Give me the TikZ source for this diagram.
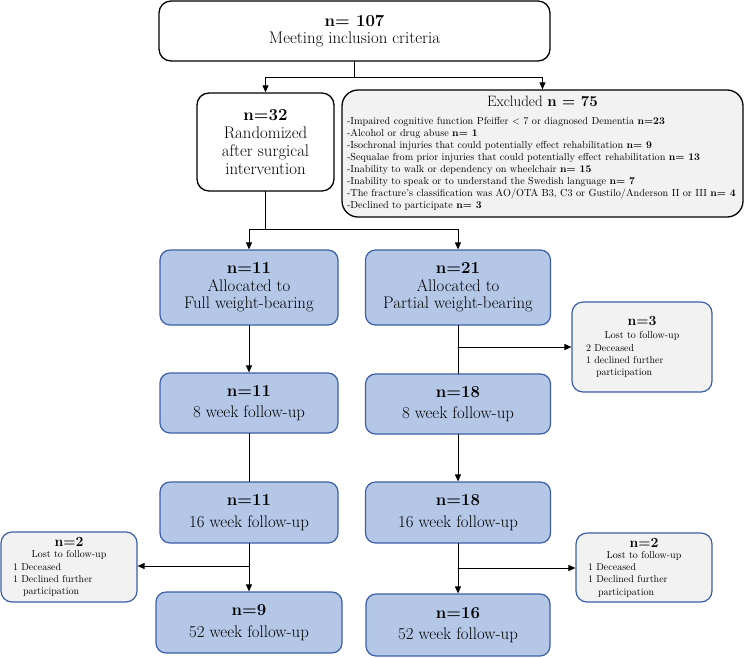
\documentclass[tikz,border=0pt]{standalone}
\usepackage{tikz}
\usetikzlibrary{arrows.meta}

\definecolor{boxblue}{HTML}{B4C7E7}
\definecolor{edgeblue}{HTML}{3B5FA6}
\definecolor{boxgray}{HTML}{F2F2F2}

\def\colL{249}
\def\colR{458}
\newcommand{\exline}[1]{\makebox[391pt][l]{#1}}
\newcommand{\lostline}[1]{\makebox[112pt][l]{#1}}

\begin{document}
\begin{tikzpicture}[x=1pt, y=-1pt,
                    >={Triangle[length=7pt,width=6pt]}, line cap=round,
                    line width=1pt,
                    whitebox/.style={draw, line width=1.3pt, rounded corners=12pt, fill=white,
                                     align=center, inner sep=0pt,
                                     font=\fontsize{16.8}{17.8}\selectfont},
                    exclbox/.style={whitebox, fill=boxgray, rounded corners=16pt,
                                    font=\fontsize{10.2}{12}\selectfont},
                    bluebox/.style={draw=edgeblue, line width=1.2pt, fill=boxblue,
                                    rounded corners=10pt, align=center, inner sep=0pt,
                                    minimum height=60pt,
                                    font=\fontsize{16.8}{17.5}\selectfont},
                    lostbox/.style={draw=edgeblue, line width=1.2pt, fill=boxgray,
                                    rounded corners=11pt, align=center, inner sep=0pt,
                                    minimum width=137pt,
                                    font=\fontsize{10}{12.3}\selectfont}
                   ]
\useasboundingbox (0,0) rectangle (744,657);

% screening
\node[whitebox, minimum width=391pt, minimum height=60pt] (top) at (354.5,31)
  {\textbf{n= 107}\\Meeting inclusion criteria};
\node[whitebox, minimum width=137pt, minimum height=98pt] (rand) at (265.5,142)
  {\textbf{n=32}\\Randomized\\after surgical\\intervention};
\node[exclbox, minimum width=401pt, minimum height=127pt] (excl) at (542.5,153.5)
  {{\fontsize{15}{16}\selectfont Excluded \textbf{n = 75}}\\[6pt]
   \exline{-Impaired cognitive function Pfeiffer < 7 or diagnosed Dementia \textbf{n=23}}\\
   \exline{-Alcohol or drug abuse \textbf{n= 1}}\\
   \exline{-Isochronal injuries that could potentially effect rehabilitation \textbf{n= 9}}\\
   \exline{-Sequalae from prior injuries that could potentially effect rehabilitation \textbf{n= 13}}\\
   \exline{-Inability to walk or dependency on wheelchair \textbf{n= 15}}\\
   \exline{-Inability to speak or to understand the Swedish language \textbf{n= 7}}\\
   \exline{-The fracture's classification was AO/OTA B3, C3 or Gustilo/Anderson II or III \textbf{n= 4}}\\
   \exline{-Declined to participate \textbf{n= 3}}};

% full weight-bearing arm
\node[bluebox, minimum width=178pt, minimum height=75pt] (fullA) at (\colL,287.5)
  {\textbf{n=11}\\Allocated to\\Full weight-bearing};
\node[bluebox, minimum width=178pt] (full8) at (\colL,403)
  {\textbf{n=11}\\[4pt]8 week follow-up};
\node[bluebox, minimum width=178pt, minimum height=61pt] (full16) at (\colL,512.5)
  {\textbf{n=11}\\[4pt]16 week follow-up};
\node[bluebox, minimum width=186pt, minimum height=61pt] (full52) at (\colL,622.5)
  {\textbf{n=9}\\[4pt]52 week follow-up};

% partial weight-bearing arm
\node[bluebox, minimum width=185pt, minimum height=75pt] (partA) at (\colR,287.5)
  {\textbf{n=21}\\Allocated to\\Partial weight-bearing};
\node[bluebox, minimum width=185pt] (part8) at (\colR,404)
  {\textbf{n=18}\\[4pt]8 week follow-up};
\node[bluebox, minimum width=185pt, minimum height=61pt] (part16) at (\colR,512.5)
  {\textbf{n=18}\\[4pt]16 week follow-up};
\node[bluebox, minimum width=184pt, minimum height=62pt] (part52) at (\colR,625)
  {\textbf{n=16}\\[4pt]52 week follow-up};

% lost to follow-up
\node[lostbox, minimum width=140pt, minimum height=90pt] (lost3) at (642,347)
  {{\fontsize{14}{15}\selectfont\textbf{n=3}}\\[1pt]
   Lost to follow-up\\
   \lostline{2 Deceased}\\
   \lostline{1 declined further}\\
   \lostline{\hspace*{10pt}participation}};
\node[lostbox, minimum width=136pt, minimum height=70pt] (lostL) at (69,567)
  {{\fontsize{14}{15}\selectfont\textbf{n=2}}\\[-1pt]
   Lost to follow-up\\
   \lostline{1 Deceased}\\
   \lostline{1 Declined further}\\
   \lostline{\hspace*{10pt}participation}};
\node[lostbox, minimum width=136pt, minimum height=69pt] (lostR) at (644,567.5)
  {{\fontsize{14}{15}\selectfont\textbf{n=2}}\\[-1pt]
   Lost to follow-up\\
   \lostline{1 Deceased}\\
   \lostline{1 Declined further}\\
   \lostline{\hspace*{10pt}participation}};

% connectors
\coordinate (s1) at (top.south |- 0,77);
\coordinate (s2) at (rand.south |- 0,229);
\draw (top) -- (s1);
\draw[->] (s1) -| (rand);
\draw[->] (s1) -| (excl);
\draw (rand) -- (s2);
\draw[->] (s2) -| (fullA);
\draw[->] (s2) -| (partA);

\draw[->] (fullA) -- (full8);
\draw (full8) -- (full16);
\draw[->] (full16) -- (full52);
\coordinate (b3) at (full16.south |- 0,566);
\draw[->] (b3) -- (b3 -| lostL.east);

\draw (partA) -- (part8);
\coordinate (b1) at (partA.south |- 0,347);
\draw[->] (b1) -- (b1 -| lost3.west);
\draw[->] (part8) -- (part16);
\draw[->] (part16) -- (part52);
\coordinate (b4) at (part16.south |- 0,568);
\draw[->] (b4) -- (b4 -| lostR.west);
\end{tikzpicture}
\end{document}
